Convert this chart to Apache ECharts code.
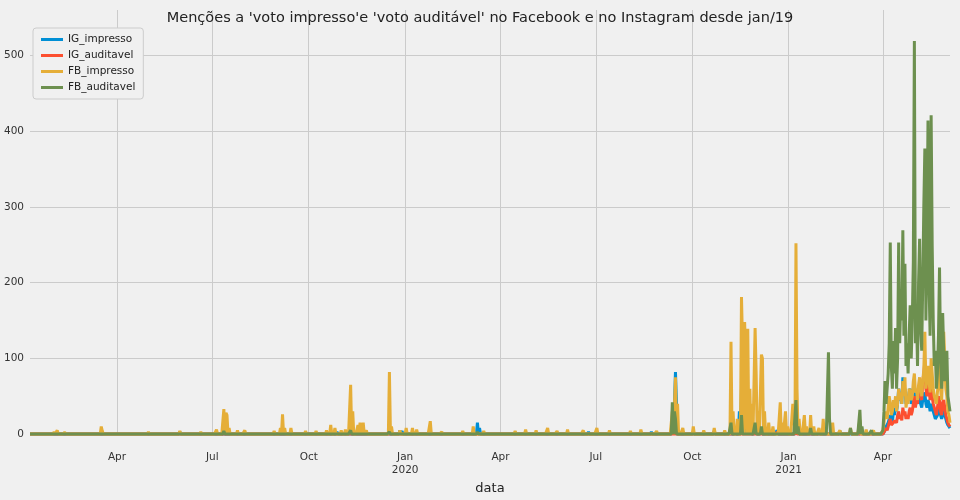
<!DOCTYPE html>
<html>
<head>
<meta charset="utf-8">
<script src="https://cdn.jsdelivr.net/npm/echarts@6/dist/echarts.min.js"></script>
<style>html,body{margin:0;background:#f0f0f0}</style>
</head>
<body>
<div id="main" style="width:960px;height:500px"></div>
<script>
// dias contados desde 01/01/2019
const firstDay = 7, lastDay = 885;
const seriesNames = ['IG_impresso', 'IG_auditavel', 'FB_impresso', 'FB_auditavel'];
const colors = ['#008fd5', '#fc4f30', '#e5ae38', '#6d904f'];

// picos esparsos [dia, valor]
const igImpressoSpikes = [[150,3],[240,2],[300,3],[360,5],[362,4],[434,15],[436,8],[540,3],[600,3],[620,20],[623,82],[624,40],[640,3],[660,4],
  [680,8],[684,30],[686,60],[687,75],[688,55],[689,45],[690,35],[692,25],[695,15],[700,10],[705,5],[720,5],[738,15],[740,8],[760,5],[780,4],[800,3]];
const igAuditavelSpikes = [[690,2],[700,2],[720,3],[738,3],[760,2],[790,3],[810,2]];
const fbImpressoSpikes = [[30,3],[33,5],[40,2],[75,10],[76,4],[120,3],[150,4],[170,3],[185,6],[192,33],[194,28],[195,25],[197,8],[205,5],[212,5],
  [240,4],[246,8],[248,26],[250,8],[256,8],[270,4],[280,4],[290,5],[294,12],[298,8],[304,5],[308,6],[313,65],[315,30],[320,12],[322,15],[325,15],[328,5],
  [350,82],[352,10],[360,5],[366,8],[372,8],[376,6],[389,17],[400,3],[420,4],[430,10],[440,4],[470,4],[480,6],[490,5],[501,8],[510,4],[520,6],[535,5],
  [548,8],[560,5],[580,4],[590,6],[605,4],[620,30],[623,75],[625,40],[630,8],[640,10],[650,5],[660,8],[670,5],[676,122],[678,30],[682,20],
  [686,181],[687,120],[689,148],[690,100],[692,139],[694,60],[696,40],[699,140],[700,80],[702,30],[705,105],[706,100],[708,30],[712,15],[716,10],
  [723,42],[725,15],[728,30],[730,10],[735,40],[736,25],[738,252],[739,60],[741,20],[746,25],[748,10],[752,25],[755,10],[760,8],[764,20],[766,8],
  [773,15],[780,5],[790,8],[799,18],[805,6],[812,5]];
const fbAuditavelSpikes = [[192,4],[313,5],[350,3],[434,3],[620,42],[622,30],[623,20],[676,15],[686,25],[699,15],[705,10],[738,45],[740,10],
  [752,8],[769,108],[770,20],[790,8],[799,32],[801,10],[810,5]];

// trecho denso abr-jun/2021 (dias 821..885)
const denseStart = 821;
const igImpressoDense = [0,2,5,10,8,15,20,25,20,15,30,25,35,30,40,60,45,50,40,75,55,60,40,50,45,55,60,40,45,50,55,40,45,40,50,45,40,35,45,50,55,40,35,45,40,30,40,35,30,25,20,20,25,30,35,25,20,25,30,25,20,15,12,10,8];
const igAuditavelDense = [0,2,5,8,5,10,15,20,12,10,15,18,20,15,25,30,20,25,18,35,25,30,20,25,20,30,35,25,30,40,50,35,45,40,60,55,50,45,70,80,97,60,50,75,60,45,70,50,40,35,30,25,35,45,50,30,25,40,45,35,25,20,15,12,10];
const fbImpressoDense = [5,15,30,25,20,35,50,40,25,30,45,35,50,30,40,60,45,55,40,70,50,75,35,45,40,60,55,45,50,70,80,55,60,45,65,75,60,50,70,85,135,60,75,90,70,55,100,80,60,50,45,40,55,70,130,60,45,80,135,100,60,50,30,25,15];
const fbAuditavelDense = [5,30,70,40,60,80,120,253,90,60,123,80,140,60,100,253,120,180,150,269,130,225,90,120,80,130,170,100,150,228,519,120,160,90,200,258,140,110,200,300,377,150,250,414,200,130,421,250,150,90,110,60,80,130,220,100,60,160,110,70,90,110,50,40,30];

const monthNames = ['Jan','Feb','Mar','Apr','May','Jun','Jul','Aug','Sep','Oct','Nov','Dec'];
const base = Date.UTC(2019, 0, 1);
const dates = [];
for (let d = firstDay; d <= lastDay; d++) dates.push(new Date(base + d * 86400000));

function build(spikes, dense) {
  const arr = dates.map(() => 0);
  spikes.forEach(([d, v]) => { arr[d - firstDay] = v; });
  dense.forEach((v, i) => { arr[denseStart + i - firstDay] = v; });
  return arr;
}
const values = [
  build(igImpressoSpikes, igImpressoDense),
  build(igAuditavelSpikes, igAuditavelDense),
  build(fbImpressoSpikes, fbImpressoDense),
  build(fbAuditavelSpikes, fbAuditavelDense)
];

const isQuarter = (i) => { const t = dates[i]; return t.getUTCDate() === 1 && t.getUTCMonth() % 3 === 0; };

const chart = echarts.init(document.getElementById('main'));
chart.setOption({
  backgroundColor: '#f0f0f0',
  animation: false,
  title: {
    text: "Menções a 'voto impresso'e 'voto auditável' no Facebook e no Instagram desde jan/19",
    left: 'center', top: 6,
    textStyle: { fontFamily: 'DejaVu Sans', fontSize: 14.5, fontWeight: 'normal', color: '#222' }
  },
  legend: {
    orient: 'vertical', left: 33, top: 28, itemGap: 5,
    itemWidth: 22, itemHeight: 3, icon: 'rect',
    backgroundColor: '#f0f0f0', borderColor: '#ccc', borderWidth: 1, borderRadius: 3, padding: [6, 8],
    textStyle: { fontFamily: 'DejaVu Sans', fontSize: 10.5, color: '#222' },
    data: seriesNames
  },
  grid: { left: 30, right: 10, top: 10, bottom: 60 },
  xAxis: {
    type: 'category', boundaryGap: false,
    data: dates.map((t, i) => i),
    name: 'data', nameLocation: 'middle', nameGap: 44,
    nameTextStyle: { fontFamily: 'DejaVu Sans', fontSize: 13, color: '#222' },
    axisLine: { show: false }, axisTick: { show: false },
    axisLabel: {
      interval: (i) => isQuarter(i), margin: 17,
      fontFamily: 'DejaVu Sans', fontSize: 10.5, color: '#333', lineHeight: 13,
      formatter: (v) => { const t = dates[v]; const m = t.getUTCMonth(); return m === 0 ? 'Jan\n' + t.getUTCFullYear() : monthNames[m]; }
    },
    splitLine: { show: true, interval: (i) => isQuarter(i), lineStyle: { color: '#cbcbcb', width: 1 } }
  },
  yAxis: {
    type: 'value', min: 0, max: 560, interval: 100,
    axisLine: { show: false }, axisTick: { show: false },
    axisLabel: { showMaxLabel: false, margin: 6, fontFamily: 'DejaVu Sans', fontSize: 10.5, color: '#333' },
    splitLine: { showMaxLine: false, lineStyle: { color: '#cbcbcb', width: 1 } }
  },
  series: seriesNames.map((name, k) => ({
    name, type: 'line', data: values[k], showSymbol: false, clip: false,
    lineStyle: { width: 3, color: colors[k] }, itemStyle: { color: colors[k] }
  }))
});
</script>
</body>
</html>
